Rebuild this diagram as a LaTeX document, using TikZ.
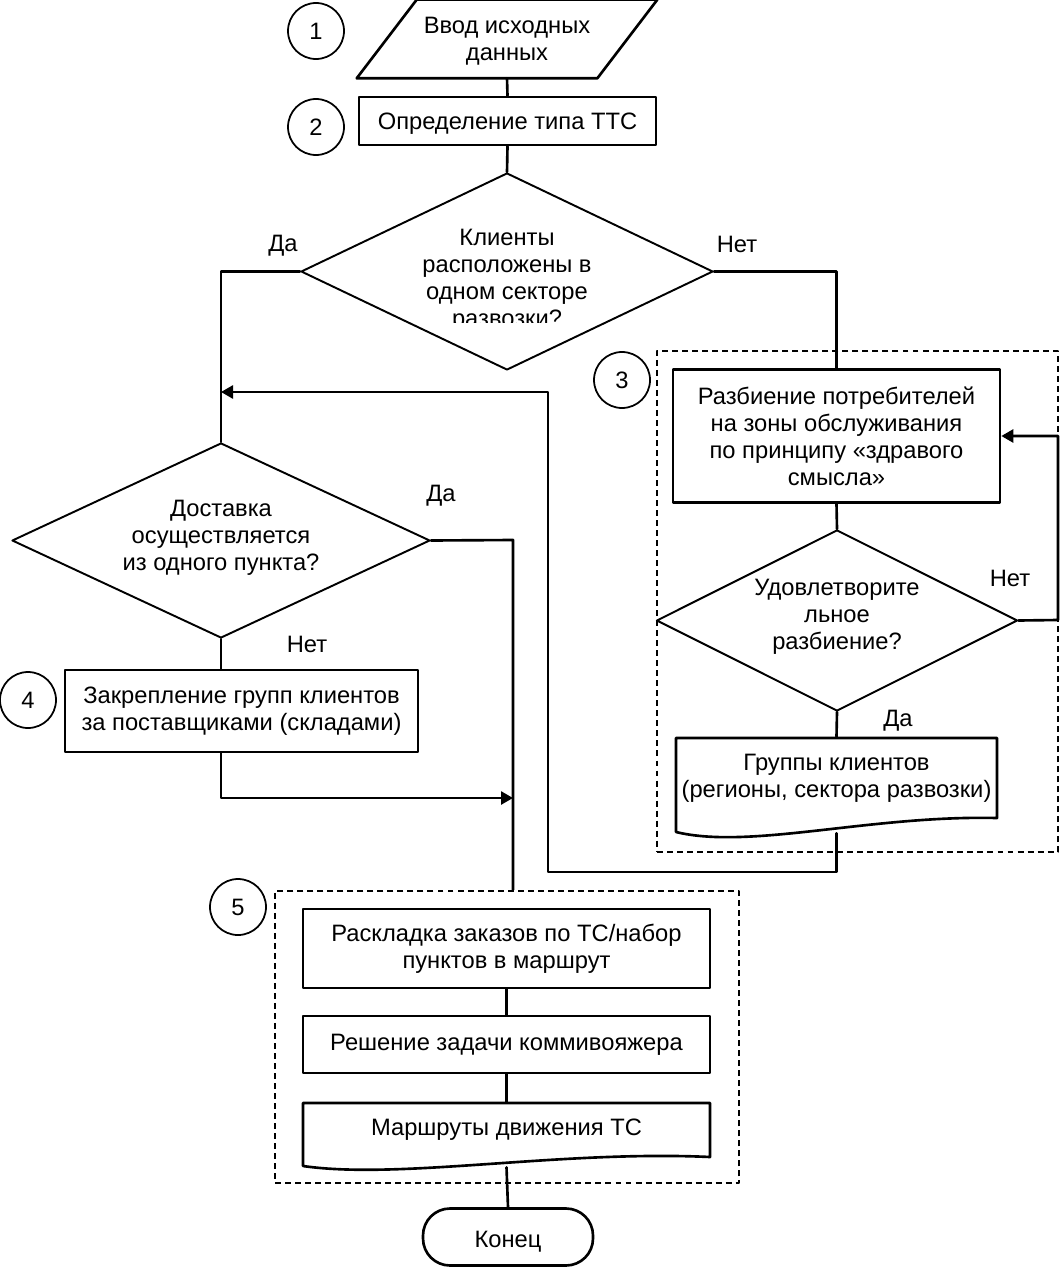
\documentclass[tikz,border=0pt]{standalone}
\usepackage{fontspec}
\setmainfont{Liberation Sans}
\usetikzlibrary{shapes.geometric,arrows.meta}
\newlength\px
\setlength\px{0.02cm}
\begin{document}
\begin{tikzpicture}[x=0.02cm,y=-0.02cm,line join=round,line cap=round,>={Triangle[length=0.24cm,width=0.26cm]},line width=1.5pt]
	\tikzset{every node/.style={font=\fontsize{13.5}{15.3}\selectfont,inner sep=0pt,align=center}}
	\tikzset{box/.style={draw,rectangle,minimum width=407\px},
		num/.style={draw,circle,minimum size=56\px,line width=1pt},
		rhomb/.style={draw,diamond,line width=1.1pt},
		low/.style={text height=#1},
		zone/.style={draw,rectangle,line width=1.3pt,line cap=butt,dash pattern=on 3.4pt off 2.3pt}}
	\useasboundingbox (0,0) rectangle (1061,1267);
	\node[num] (c1) at (316,31) {1};
	\node (inp) at (507,39) [minimum width=238\px,minimum height=76\px] {};
	\node (inpt) at (507,41) {Ввод исходных\\данных};
	\draw ([xshift=30\px]inp.north west) -- ([xshift=30\px]inp.north east) -- ([xshift=-30\px]inp.south east) -- ([xshift=-30\px]inp.south west) -- cycle;
	\node[num] (c2) at (316,127) {2};
	\node[box,low=13pt,minimum width=297\px,minimum height=48\px] (typ) at (507.5,121) {Определение типа ТТС};
	\node[rhomb,minimum width=412\px,minimum height=197\px] (q1) at (507,271.5) {};
	\begin{scope}
		\clip (320,200) rectangle (700,322);
		\node (q1t) at (507,280) {Клиенты\\расположены в\\одном секторе\\развозки?};
	\end{scope}
	\node (da1) at (283,246) {Да};
	\node (net1) at (737,244) {Нет};
	\node[rhomb,minimum width=418\px,minimum height=195\px] (q2) at (221,540.5) {};
	\node (q2t) at (221,538) {Доставка\\осуществляется\\из одного пункта?};
	\node (da2) at (441,496) {Да};
	\node (net2) at (307,644) {Нет};
	\node[num] (c4) at (28,700) {4};
	\node[box,minimum width=353\px,minimum height=82\px] (asg) at (241.5,711) {Закрепление групп клиентов\\за поставщиками (складами)};
	\node[zone,minimum width=401\px,minimum height=501\px] (blk3) at (857.5,601.5) {};
	\node[num] (c3) at (622,380) {3};
	\node[box,minimum width=327\px,minimum height=133\px] (part) at (836.5,436) {Разбиение потребителей\\на зоны обслуживания\\по принципу «здравого\\смысла»};
	\node[rhomb,minimum width=361\px,minimum height=181\px] (q3) at (837,620.5) {};
	\node (q3t) at (837,617) {Удовлетворите\\льное\\разбиение?};
	\node (net3) at (1010,578) {Нет};
	\node (da3) at (898,721) {Да};
	\node (grp) at (836.5,785) [minimum width=321\px,minimum height=94\px] {};
	\node (grpt) at (836.5,778) {Группы клиентов\\(регионы, сектора развозки)};
	\draw (676,832) -- (676,738) -- (997,738) -- (997,818) .. controls (870,815) and (750,850) .. (676,832);
	\node[zone,minimum width=464\px,minimum height=292\px] (blk5) at (507,1037) {};
	\node[num] (c5) at (238,907) {5};
	\node[box,minimum height=79\px] (lay) at (506.5,948.5) {Раскладка заказов по ТС/набор\\пунктов в маршрут};
	\node[box,minimum height=57\px] (tsp) at (506.5,1044.5) {Решение задачи коммивояжера};
	\node (rts) at (506.5,1134.5) [minimum width=407\px,minimum height=63\px] {};
	\node (rtst) at (506.5,1130) {Маршруты движения ТС};
	\draw (303,1166) -- (303,1103) -- (710,1103) -- (710,1157) .. controls (560,1150) and (400,1180) .. (303,1166);
	\node[draw,low=14.2pt,rounded corners=27\px,minimum width=170\px,minimum height=57\px] (fin) at (508,1237) {Конец};
	\coordinate (j1) at (513,540);
	\coordinate (j2) at (513,798);
	\coordinate (j3) at (221,392);
	\coordinate (back) at (548,872);
	\coordinate (loop) at (1058,620);
	\draw (inp.south) -- (typ.north);
	\draw (typ.south) -- (q1.north);
	\draw (q1.west) -| (q2.north);
	\draw (q1.east) -| (part.north);
	\draw (q2.east) -- (j1) -- (j1 |- blk5.north);
	\draw (q2.south) -- (q2.south |- asg.north);
	\draw[->] (q2.south |- asg.south) |- (j2);
	\draw (part.south) -- (q3.north);
	\draw (q3.south) -- (grp.north);
	\draw[->] (grp.south) |- (back) -- (back |- j3) -- (j3);
	\draw[->] (q3.east) -- (loop) |- (part.east);
	\draw (lay.south) -- (tsp.north);
	\draw (tsp.south) -- (rts.north);
	\draw (rts.south) -- (fin.north);
\end{tikzpicture}
\end{document}
